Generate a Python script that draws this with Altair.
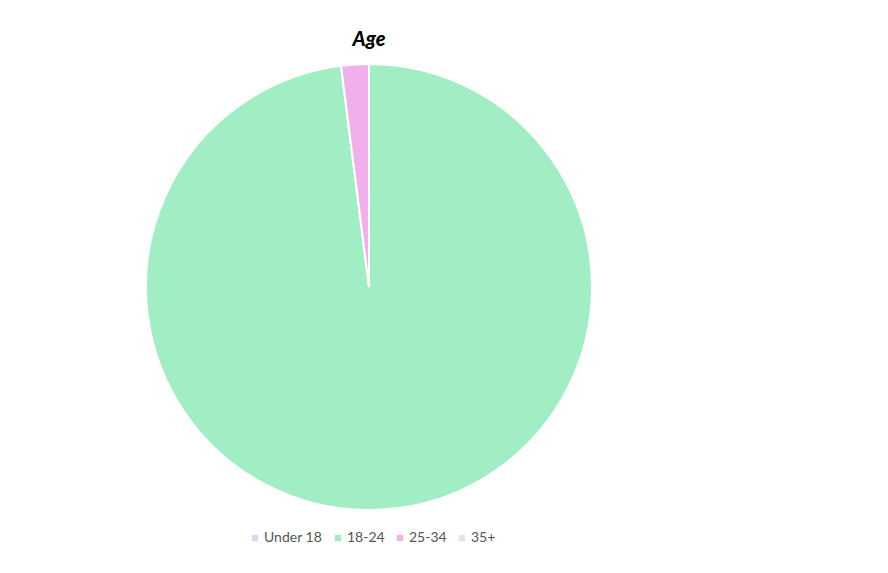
import altair as alt
import pandas as pd

categories = ["Under 18", "18-24", "25-34", "35+"]
values = [0, 98, 2, 0]
colors = ["#d9d9ef", "#a1eec5", "#f1b0eb", "#d9ecd5"]

df = pd.DataFrame({"age": categories, "value": values, "order": list(range(len(categories)))})

chart = alt.Chart(df).mark_arc(stroke="white", strokeWidth=2).encode(
    theta=alt.Theta("value:Q", stack=True),
    color=alt.Color(
        "age:N",
        sort=categories,
        scale=alt.Scale(domain=categories, range=colors),
        legend=alt.Legend(
            title=None,
            orient="none",
            legendX=240,
            legendY=467,
            direction="horizontal",
            symbolType="square",
            symbolSize=40,
            labelFont="Lato",
            labelFontSize=14,
            labelColor="#555555",
            labelOffset=2,
            columnPadding=8,
            symbolStrokeWidth=0,
        ),
    ),
    order=alt.Order("order:Q"),
).properties(
    width=722,
    height=446,
    padding={"top": 22, "left": 0, "right": 0, "bottom": 0},
    title=alt.TitleParams("Age", font="Lato", fontSize=20, fontStyle="italic", fontWeight=900, color="#000000", offset=10),
).configure_view(stroke=None)

chart.save("out.html", embed_options={"renderer": "svg", "actions": False})
